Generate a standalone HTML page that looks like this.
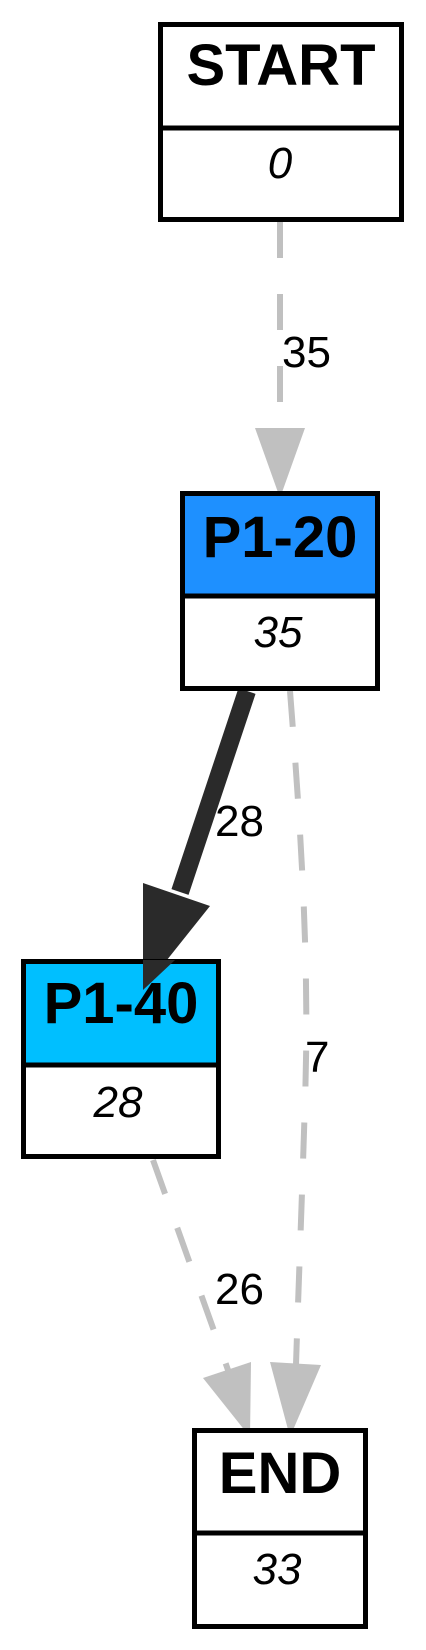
<!DOCTYPE html>
<html><head><meta charset="utf-8"><style>
html,body{margin:0;padding:0;background:#fff;width:426px;height:1650px;overflow:hidden}
svg{display:block}
.t{font-family:"Liberation Sans",Arial,sans-serif;font-weight:bold;font-size:58px;text-anchor:middle}
.v{font-family:"Liberation Sans",Arial,sans-serif;font-style:italic;font-size:44px;text-anchor:middle}
.l{font-family:"Liberation Sans",Arial,sans-serif;font-size:44px}
</style></head><body>
<svg width="426" height="1650" viewBox="0 0 426 1650">
<g>
<line x1="280" y1="222" x2="280" y2="428" stroke="#c0c0c0" stroke-width="6" stroke-dasharray="36,36"/>
<polygon points="255,428 305,428 280,498" fill="#c0c0c0"/>
<text class="l" x="282" y="367">35</text>
</g>
<g>
<path d="M290,691 C300,820 310,960 305,1100 C302,1200 298,1300 296,1365" fill="none" stroke="#c0c0c0" stroke-width="6" stroke-dasharray="36,36"/>
<polygon points="270,1362 321,1365 290,1437" fill="#c0c0c0"/>
<text class="l" x="305" y="1072">7</text>
</g>
<g>
<line x1="153" y1="1160" x2="228" y2="1370" stroke="#c0c0c0" stroke-width="6" stroke-dasharray="36,36"/>
<polygon points="203,1378 251,1362 250,1437" fill="#c0c0c0"/>
<text class="l" x="215" y="1304">26</text>
</g>
<g>
<line x1="247" y1="691" x2="180" y2="892" stroke="#2a2a2a" stroke-width="18"/>
<polygon points="143,883 210,906 143,990" fill="#2a2a2a"/>
<text class="l" x="215" y="836">28</text>
</g>
<g>
<rect x="160.5" y="24.5" width="241" height="195" fill="#fff" stroke="#000" stroke-width="5"/>
<line x1="160" y1="128" x2="402" y2="128" stroke="#000" stroke-width="5"/>
<text class="t" x="281" y="85">START</text>
<text class="v" x="280" y="178">0</text>
</g>
<g>
<rect x="182.5" y="493.5" width="195" height="195" fill="#1e90ff" stroke="#000" stroke-width="5"/>
<rect x="185" y="596" width="190" height="90" fill="#fff"/>
<line x1="182" y1="596" x2="378" y2="596" stroke="#000" stroke-width="5"/>
<text class="t" x="280" y="557">P1-20</text>
<text class="v" x="278" y="647">35</text>
</g>
<g>
<rect x="23.5" y="961.5" width="195" height="195" fill="#00bfff" stroke="#000" stroke-width="5"/>
<rect x="26" y="1065" width="190" height="89" fill="#fff"/>
<line x1="23" y1="1065" x2="219" y2="1065" stroke="#000" stroke-width="5"/>
<text class="t" x="121" y="1023">P1-40</text>
<text class="v" x="118" y="1117">28</text>
</g>
<polygon points="143,960 175,960 143,990" fill="#2a2a2a"/>
<g>
<rect x="194.5" y="1430.5" width="171" height="196" fill="#fff" stroke="#000" stroke-width="5"/>
<line x1="194" y1="1533" x2="366" y2="1533" stroke="#000" stroke-width="5"/>
<text class="t" x="280" y="1493">END</text>
<text class="v" x="277" y="1584">33</text>
</g>
</svg>
</body></html>
